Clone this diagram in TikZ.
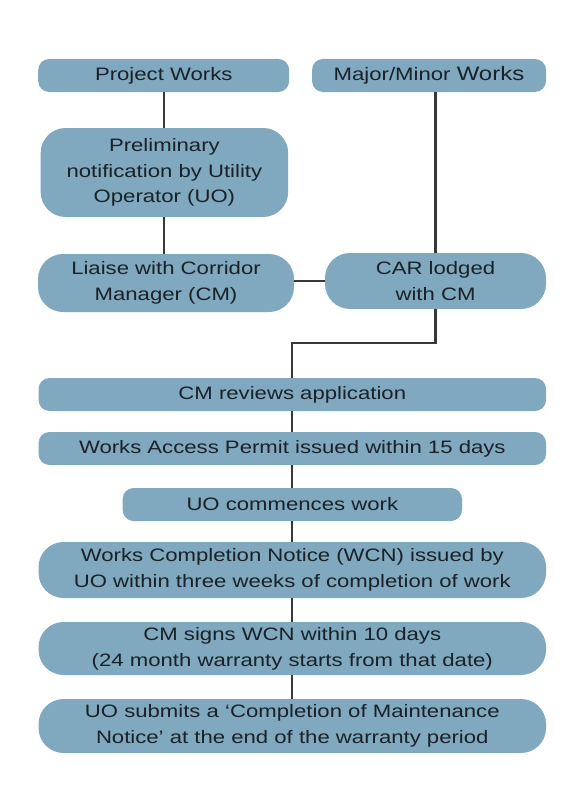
\documentclass[tikz,border=0pt]{standalone}
\usepackage{fontspec}
\setmainfont{Liberation Sans}[FakeStretch=1.23]
\usetikzlibrary{positioning}
\definecolor{boxblue}{HTML}{80A8BE}
\definecolor{boxtext}{HTML}{1A2129}
\definecolor{linkgrey}{HTML}{383838}
\tikzset{
	stepbox/.style={rectangle, rounded corners=11pt, fill=boxblue, text=boxtext,
		inner sep=0pt, outer sep=0pt, align=center,
		font=\fontsize{18}{25.7}\selectfont, minimum height=33pt},
	tallbox/.style={stepbox, rounded corners=25pt},
	link/.style={draw=linkgrey, line width=2.2pt}
}

\begin{document}
\begin{tikzpicture}
		\useasboundingbox (0,0) rectangle (577pt,-800pt);

		% Define nodes
		\node[stepbox, minimum width=251pt, xshift=163.7pt, yshift=-75.5pt] (PW) {Project Works};
		\node[stepbox, minimum width=234pt, xshift=429pt, yshift=-75.5pt] (MM) {Major/Minor {\fontsize{19.5}{25.7}\selectfont Works}};
		\node[tallbox, minimum width=247.5pt, minimum height=89pt, xshift=164.4pt, yshift=-172.5pt] (PN) {Preliminary\\notification by Utility\\Operator (UO)};
		\node[tallbox, minimum width=256pt, minimum height=58pt, xshift=166pt, yshift=-283pt] (LCM) {Liaise with Corridor\\Manager (CM)};
		\node[tallbox, minimum width=221pt, minimum height=56pt, xshift=435.5pt, yshift=-281pt] (CAR) {CAR lodged\\with CM};
		\node[stepbox, minimum width=507.5pt, xshift=292.3pt, yshift=-394.5pt] (CMR) {CM reviews application};
		\node[stepbox, minimum width=507.5pt, below=21pt of CMR] (WAP) {Works Access Permit issued within 15 days};
		\node[stepbox, minimum width=339.4pt, below=23pt of WAP] (UOC) {UO commences work};
		\node[tallbox, minimum width=507.5pt, minimum height=56pt, below=21pt of UOC] (WCN) {Works Completion Notice (WCN) issued by\\UO within three weeks of completion of work};
		\node[tallbox, minimum width=507.5pt, minimum height=53pt, below=24pt of WCN] (CMS) {CM signs WCN within 10 days\\(24 month warranty starts from that date)};
		\node[tallbox, minimum width=507.5pt, minimum height=54pt, below=24pt of CMS] (UOS) {UO submits a `Completion of Maintenance\\Notice' at the end of the warranty period};

		% Connect the nodes
		\draw[link] (PW.south) -- (PW.south |- PN.north);
		\draw[link] (PW.south |- PN.south) -- (PW.south |- LCM.north);
		\draw[link] (CAR.north) -- (CAR.north |- MM.south);
		\draw[link] (CAR.west) -- (CAR.west -| LCM.east);
		\draw[link] (CAR.south) -- ++(0,-34pt) -| (CMR.north);
		\foreach \a/\b in {CMR/WAP, WAP/UOC, UOC/WCN, WCN/CMS, CMS/UOS}
			\draw[link] (\a) -- (\b);
	\end{tikzpicture}
\end{document}
